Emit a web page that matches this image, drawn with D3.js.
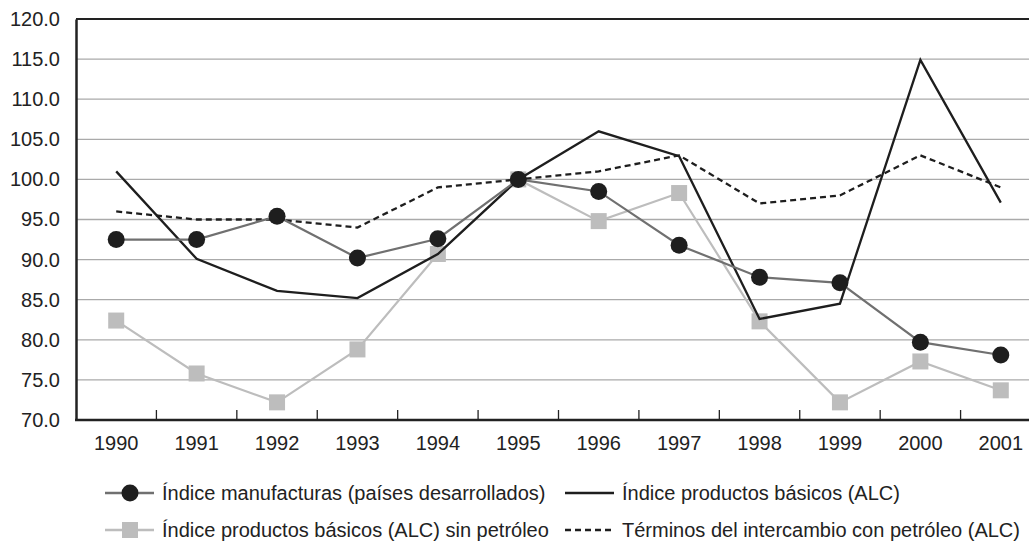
<!DOCTYPE html>
<html>
<head>
<meta charset="utf-8">
<script src="https://cdn.jsdelivr.net/npm/d3@7"></script>
<style>
  html, body { margin: 0; padding: 0; background: #fff; }
  svg { display: block; font-family: "Liberation Sans", Arial, sans-serif; }
</style>
</head>
<body>
<svg id="chart" width="1029" height="541"></svg>
<script>
// Data
const years = ['1990', '1991', '1992', '1993', '1994', '1995', '1996', '1997', '1998', '1999', '2000', '2001'];
const manufacturas = [92.5, 92.5, 95.4, 90.2, 92.6, 100.0, 98.5, 91.8, 87.8, 87.1, 79.7, 78.1];
const basicos = [101.0, 90.1, 86.1, 85.2, 90.7, 100.0, 106.0, 102.9, 82.6, 84.5, 114.9, 97.1];
const sinPetroleo = [82.4, 75.8, 72.2, 78.8, 90.7, 100.0, 94.8, 98.3, 82.3, 72.2, 77.3, 73.7];
const terminos = [96.0, 95.0, 95.0, 94.0, 99.0, 100.0, 101.0, 103.0, 97.0, 98.0, 103.0, 99.0];
const yTicks = [70, 75, 80, 85, 90, 95, 100, 105, 110, 115, 120];

const legendLabels = [
    'Índice manufacturas (países desarrollados)',
    'Índice productos básicos (ALC)',
    'Índice productos básicos (ALC) sin petróleo',
    'Términos del intercambio con petróleo (ALC)'
];

const svg = d3.select('#chart');
const margin = { left: 76, top: 19, bottom: 420, right: 1041 };
const fontSize = '20px';

const x = d3.scaleBand()
    .domain(years)
    .range([margin.left, margin.right]);

const y = d3.scaleLinear()
    .domain([70, 120])
    .range([margin.bottom, margin.top]);

const textColor = '#222';

// Gridlines
svg.append('g')
    .selectAll('line')
    .data(yTicks.filter(t => t > 70 && t < 120))
    .join('line')
    .attr('x1', margin.left)
    .attr('x2', 1029)
    .attr('y1', d => y(d))
    .attr('y2', d => y(d))
    .attr('stroke', '#aaa')
    .attr('stroke-width', 1.3);

// Top frame line
svg.append('line')
    .attr('x1', margin.left).attr('x2', 1029)
    .attr('y1', y(120)).attr('y2', y(120))
    .attr('stroke', '#222').attr('stroke-width', 2.2);

// Y axis
const yAxis = svg.append('g')
    .attr('transform', `translate(${margin.left},0)`)
    .call(d3.axisLeft(y).tickValues(yTicks).tickFormat(d3.format('.1f')).tickSize(0).tickPadding(16));
yAxis.select('.domain').attr('stroke', '#222').attr('stroke-width', 2.5);
yAxis.selectAll('text')
    .attr('fill', textColor)
    .style('font-size', fontSize)
    .style('font-family', '"Liberation Sans", Arial, sans-serif');

// X axis
const xAxis = svg.append('g')
    .attr('transform', `translate(0,${margin.bottom})`)
    .call(d3.axisBottom(x).tickSize(0).tickPadding(16));
xAxis.select('.domain').remove();
xAxis.selectAll('text')
    .attr('fill', textColor)
    .style('font-size', fontSize)
    .style('font-family', '"Liberation Sans", Arial, sans-serif');

// Category separator ticks
svg.append('g')
    .selectAll('line')
    .data(years.slice(1))
    .join('line')
    .attr('x1', d => x(d))
    .attr('x2', d => x(d))
    .attr('y1', margin.bottom)
    .attr('y2', margin.bottom - 10)
    .attr('stroke', '#222')
    .attr('stroke-width', 1.3);

svg.append('line')
    .attr('x1', margin.left - 1).attr('x2', 1029)
    .attr('y1', margin.bottom).attr('y2', margin.bottom)
    .attr('stroke', '#222').attr('stroke-width', 2.5);

const cx = d => x(d) + x.bandwidth() / 2;
const line = d3.line()
    .x((d, i) => cx(years[i]))
    .y(d => y(d));

// Sin petróleo (light gray with squares)
svg.append('path')
    .datum(sinPetroleo)
    .attr('d', line)
    .attr('fill', 'none')
    .attr('stroke', '#bdbdbd')
    .attr('stroke-width', 2.2);

svg.append('g')
    .selectAll('rect')
    .data(sinPetroleo)
    .join('rect')
    .attr('x', (d, i) => cx(years[i]) - 8)
    .attr('y', d => y(d) - 8)
    .attr('width', 16)
    .attr('height', 16)
    .attr('fill', '#bdbdbd');

// Productos básicos (solid black)
svg.append('path')
    .datum(basicos)
    .attr('d', line)
    .attr('fill', 'none')
    .attr('stroke', '#1e1e1e')
    .attr('stroke-width', 2.3);

// Términos del intercambio (dashed)
svg.append('path')
    .datum(terminos)
    .attr('d', line)
    .attr('fill', 'none')
    .attr('stroke', '#1e1e1e')
    .attr('stroke-width', 2.3)
    .attr('stroke-dasharray', '6,4');

// Manufacturas (gray line, black circles)
svg.append('path')
    .datum(manufacturas)
    .attr('d', line)
    .attr('fill', 'none')
    .attr('stroke', '#707070')
    .attr('stroke-width', 2.2);

svg.append('g')
    .selectAll('circle')
    .data(manufacturas)
    .join('circle')
    .attr('cx', (d, i) => cx(years[i]))
    .attr('cy', d => y(d))
    .attr('r', 8.5)
    .attr('fill', '#1e1e1e');

// Legend
const legendItems = [
    { label: legendLabels[0], x: 105, y: 493, stroke: '#707070', dash: null, marker: 'circle' },
    { label: legendLabels[1], x: 565, y: 493, stroke: '#1e1e1e', dash: null, marker: null },
    { label: legendLabels[2], x: 105, y: 530, stroke: '#bdbdbd', dash: null, marker: 'square' },
    { label: legendLabels[3], x: 565, y: 530, stroke: '#1e1e1e', dash: '6,4', marker: null }
];

const legend = svg.append('g')
    .selectAll('g')
    .data(legendItems)
    .join('g')
    .attr('transform', d => `translate(${d.x},${d.y})`);

legend.append('line')
    .attr('x1', 0)
    .attr('x2', 49)
    .attr('stroke', d => d.stroke)
    .attr('stroke-width', 2.3)
    .attr('stroke-dasharray', d => d.dash);

legend.filter(d => d.marker === 'circle')
    .append('circle')
    .attr('cx', 25)
    .attr('r', 8.5)
    .attr('fill', '#1e1e1e');

legend.filter(d => d.marker === 'square')
    .append('rect')
    .attr('x', 17)
    .attr('y', -8)
    .attr('width', 16)
    .attr('height', 16)
    .attr('fill', '#bdbdbd');

legend.append('text')
    .attr('x', 57)
    .attr('dy', '0.35em')
    .attr('fill', textColor)
    .style('font-size', fontSize)
    .text(d => d.label);
</script>
</body>
</html>
